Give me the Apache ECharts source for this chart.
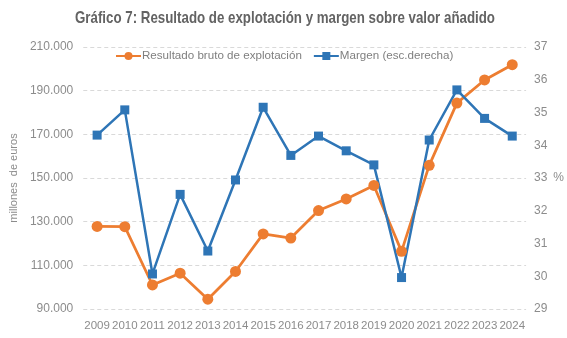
<!DOCTYPE html>
<html>
<head>
<meta charset="utf-8">
<script src="https://cdn.jsdelivr.net/npm/echarts@6/dist/echarts.min.js"></script>
<style>
html,body{margin:0;padding:0;background:#fff;}
#chart{width:567px;height:338px;}
</style>
</head>
<body>
<div id="chart"></div>
<script>
const years = ['2009','2010','2011','2012','2013','2014','2015','2016','2017','2018','2019','2020','2021','2022','2023','2024'];
const resultadoBruto = [127800, 127700, 101000, 106400, 94500, 107200, 124400, 122500, 135100, 140400, 146600, 116400, 155800, 184300, 194900, 201900];
const margen = [34.31, 35.08, 30.07, 32.50, 30.77, 32.94, 35.16, 33.69, 34.28, 33.83, 33.40, 29.96, 34.16, 35.69, 34.82, 34.28];
const leftTicks = {min: 90000, max: 210000, interval: 20000};
const rightTicks = {min: 29, max: 37, interval: 1};
const titleText = 'Gráfico 7: Resultado de explotación y margen sobre valor añadido';

function fmtThousands(v){
  const s = Math.round(v).toString();
  return s.replace(/\B(?=(\d{3})+(?!\d))/g, '.');
}

// condensed title: measure natural width, then squeeze horizontally
const titleFont = 'bold 17px "Liberation Sans", Arial, sans-serif';
const cv = document.createElement('canvas').getContext('2d');
cv.font = titleFont;
const naturalW = cv.measureText(titleText).width;
const targetW = 420;
const sx = Math.min(1, targetW / naturalW);

const gray = '#8c8c8c';
const chart = echarts.init(document.getElementById('chart'));
chart.setOption({
  animation: false,
  backgroundColor: '#fff',
  textStyle: {fontFamily: 'Liberation Sans'},
  graphic: [{
    type: 'text',
    x: 285, y: 18,
    scaleX: sx,
    style: {
      text: titleText,
      font: titleFont,
      fill: '#636363',
      textAlign: 'center',
      textVerticalAlign: 'middle'
    }
  }],
  legend: {
    left: 115,
    top: 50,
    padding: 0,
    itemWidth: 25,
    itemHeight: 10,
    itemGap: 11,
    textStyle: {fontSize: 11.6, color: '#7f7f7f', padding: [0,0,0,-4]},
    data: ['Resultado bruto de explotación', 'Margen (esc.derecha)']
  },
  grid: {left: 68, right: 40, top: 47, bottom: 29, containLabel: false},
  xAxis: {
    type: 'category',
    data: years,
    boundaryGap: true,
    axisLine: {show: false},
    axisTick: {show: false},
    axisLabel: {color: gray, fontSize: 11.5, margin: 11, interval: 0}
  },
  yAxis: [
    {
      type: 'value',
      min: leftTicks.min, max: leftTicks.max, interval: leftTicks.interval,
      name: 'millones  de euros',
      nameLocation: 'middle',
      nameGap: 39,
      nameTextStyle: {color: gray, fontSize: 11},
      axisLine: {show: false},
      axisTick: {show: false},
      axisLabel: {color: gray, fontSize: 12, margin: 10, formatter: fmtThousands},
      splitLine: {lineStyle: {type: [4, 3], color: '#d9d9d9'}}
    },
    {
      type: 'value',
      min: rightTicks.min, max: rightTicks.max, interval: rightTicks.interval,
      name: '%',
      nameLocation: 'middle',
      nameGap: 25,
      nameRotate: 0,
      nameTextStyle: {color: gray, fontSize: 12},
      axisLine: {show: false},
      axisTick: {show: false},
      axisLabel: {color: gray, fontSize: 12, margin: 8},
      splitLine: {show: false}
    }
  ],
  series: [
    {
      name: 'Resultado bruto de explotación',
      type: 'line',
      yAxisIndex: 0,
      data: resultadoBruto,
      symbol: 'circle',
      symbolSize: 11,
      color: '#ED7D31',
      lineStyle: {width: 2.75, color: '#ED7D31'},
      itemStyle: {color: '#ED7D31'}
    },
    {
      name: 'Margen (esc.derecha)',
      type: 'line',
      yAxisIndex: 1,
      data: margen,
      symbol: 'rect',
      symbolSize: 9,
      color: '#2E75B6',
      lineStyle: {width: 2.5, color: '#2E75B6'},
      itemStyle: {color: '#2E75B6'}
    }
  ]
});
</script>
</body>
</html>
